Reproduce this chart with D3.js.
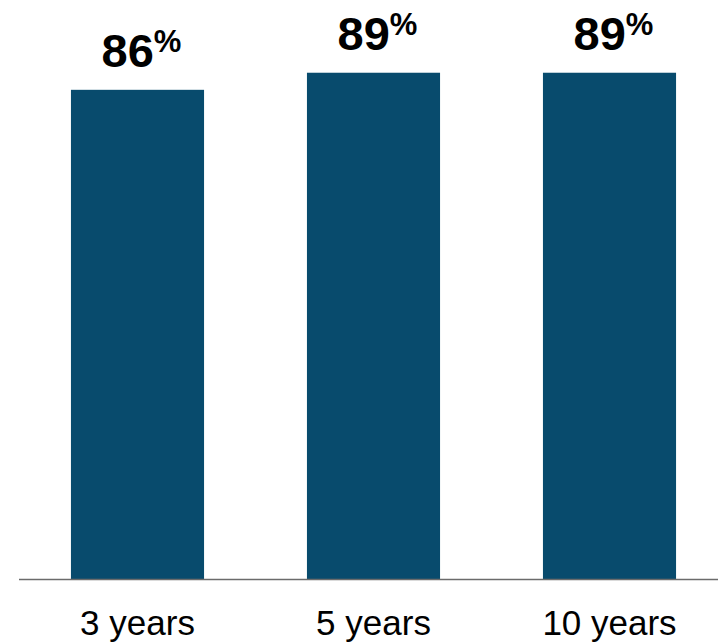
<!DOCTYPE html>
<html>
<head>
<meta charset="utf-8">
<script src="https://cdn.jsdelivr.net/npm/d3@7"></script>
<style>
  html, body { margin: 0; padding: 0; background: #fff; }
  svg { display: block; }
</style>
</head>
<body>
<svg id="chart" width="718" height="643"></svg>
<script>
const categories = ["3 years", "5 years", "10 years"];
const values = [86, 89, 89];

const svg = d3.select("#chart");
const baseY = 579.5;

const x = d3.scaleBand()
  .domain(categories)
  .range([19.5, 727.5])
  .paddingInner(0.436)
  .paddingOuter(0.218);

const y = d3.scaleLinear()
  .domain([0, 100])
  .range([baseY, baseY - 569.4]);

const data = categories.map((c, i) => ({ c, v: values[i] }));

svg.selectAll("rect.bar")
  .data(data)
  .join("rect")
  .attr("class", "bar")
  .attr("x", d => x(d.c))
  .attr("width", x.bandwidth())
  .attr("y", d => y(d.v))
  .attr("height", d => y(0) - y(d.v))
  .attr("fill", "#084b6d");

// baseline axis
const axis = d3.axisBottom(x).tickSize(0).tickPadding(31);
const g = svg.append("g").attr("transform", `translate(0,${baseY})`).call(axis);
g.select(".domain").remove();
g.selectAll("text")
  .attr("font-family", "Liberation Sans, Arial, sans-serif")
  .attr("font-size", 35)
  .attr("fill", "#000")
  .attr("dy", "0.71em");
svg.append("line")
  .attr("x1", 19).attr("x2", 718)
  .attr("y1", baseY).attr("y2", baseY)
  .attr("stroke", "#6b6b6b").attr("stroke-width", 1.5);

// value labels
const lab = svg.selectAll("text.val")
  .data(data)
  .join("text")
  .attr("class", "val")
  .attr("x", d => x(d.c) + x.bandwidth() / 2 + 4)
  .attr("y", d => y(d.v) - 23)
  .attr("text-anchor", "middle")
  .attr("font-family", "Liberation Sans, Arial, sans-serif")
  .attr("font-weight", "bold")
  .attr("fill", "#000");
lab.append("tspan").attr("font-size", 47).text(d => d.v);
lab.append("tspan").attr("font-size", 31).attr("dy", -15).text("%");
</script>
</body>
</html>
